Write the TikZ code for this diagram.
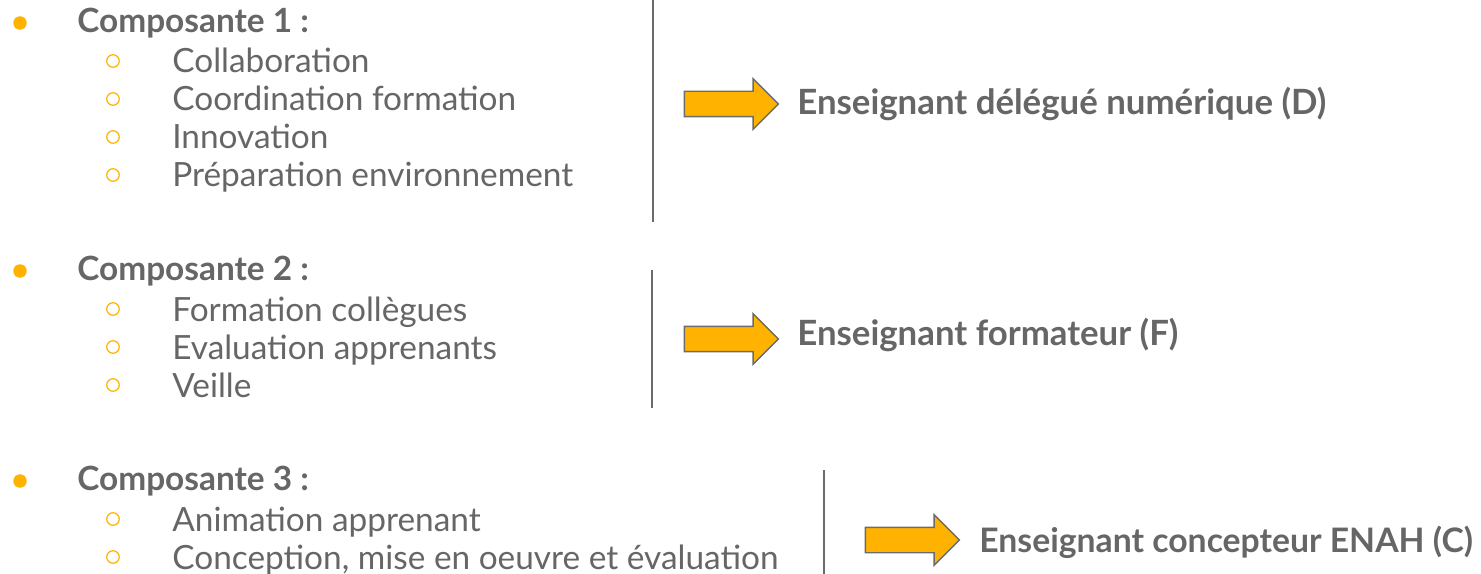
\documentclass[tikz,border=0pt]{standalone}
\usepackage{fontspec}
\setmainfont{Lato}
\usepackage{xcolor}
\usetikzlibrary{shapes.arrows}
\definecolor{txtgray}{HTML}{666666}
\definecolor{jaune}{HTML}{FFB300}
\definecolor{bord}{HTML}{6B6B6B}

\begin{document}
\begin{tikzpicture}[
    x=0.02cm, y=-0.02cm,
    titre/.style={anchor=base west, inner sep=0pt, font=\bfseries\fontsize{19}{23}\selectfont, text=txtgray},
    item/.style={anchor=base west, inner sep=0pt, font=\fontsize{19}{23}\selectfont, text=txtgray},
    puce/.style={circle, fill=jaune, minimum size=0.27cm, inner sep=0pt},
    souspuce/.style={circle, draw=jaune, line width=0.7pt, minimum size=0.25cm, inner sep=0pt},
    fleche/.style={single arrow, draw=bord, fill=jaune, line width=0.8pt, inner sep=0.24cm, minimum height=1.88cm, single arrow head extend=0.25cm},
    role/.style={anchor=base west, inner sep=0pt, font=\bfseries\fontsize{19.8}{23}\selectfont, text=txtgray},
    separateur/.style={draw=bord, line width=0.8pt}
]
    \useasboundingbox (0,0) rectangle (1481,574);
    % Composante 1
    \node[puce] (p1) at (20,23) {};
    \node[titre] (c1) at (77,33) {Composante 1 :};
    \node[souspuce] (s11) at (113,61) {};
    \node[item] (i11) at (172,73) {Collaboration};
    \node[souspuce] (s12) at (113,99) {};
    \node[item] (i12) at (172,111) {Coordination formation};
    \node[souspuce] (s13) at (113,137) {};
    \node[item] (i13) at (172,149) {Innovation};
    \node[souspuce] (s14) at (113,175) {};
    \node[item] (i14) at (172,187) {Préparation environnement};
    \draw[separateur] (653,0) -- (653,222);
    \node[fleche] (f1) at (725,104) {};
    \node[role] (r1) at (797,115) {Enseignant délégué numérique (D)};
    % Composante 2
    \node[puce] (p2) at (20,271) {};
    \node[titre] (c2) at (77,280) {Composante 2 :};
    \node[souspuce] (s21) at (113,309) {};
    \node[item] (i21) at (172,321) {Formation collègues};
    \node[souspuce] (s22) at (113,347) {};
    \node[item] (i22) at (172,359) {Evaluation apprenants};
    \node[souspuce] (s23) at (113,385) {};
    \node[item] (i23) at (172,397) {Veille};
    \draw[separateur] (652,270) -- (652,408);
    \node[fleche] (f2) at (725,339) {};
    \node[role] (r2) at (797,345) {Enseignant formateur (F)};
    % Composante 3
    \node[puce] (p3) at (20,481) {};
    \node[titre] (c3) at (77,490) {Composante 3 :};
    \node[souspuce] (s31) at (113,519) {};
    \node[item] (i31) at (172,531) {Animation apprenant};
    \node[souspuce] (s32) at (113,557) {};
    \node[item] (i32) at (172,569) {Conception, mise en oeuvre et évaluation};
    \draw[separateur] (824,470) -- (824,574);
    \node[fleche] (f3) at (906,540) {};
    \node[role, font=\bfseries\fontsize{19.2}{23}\selectfont] (r3) at (979,552) {Enseignant concepteur ENAH (C)};
\end{tikzpicture}
\end{document}
